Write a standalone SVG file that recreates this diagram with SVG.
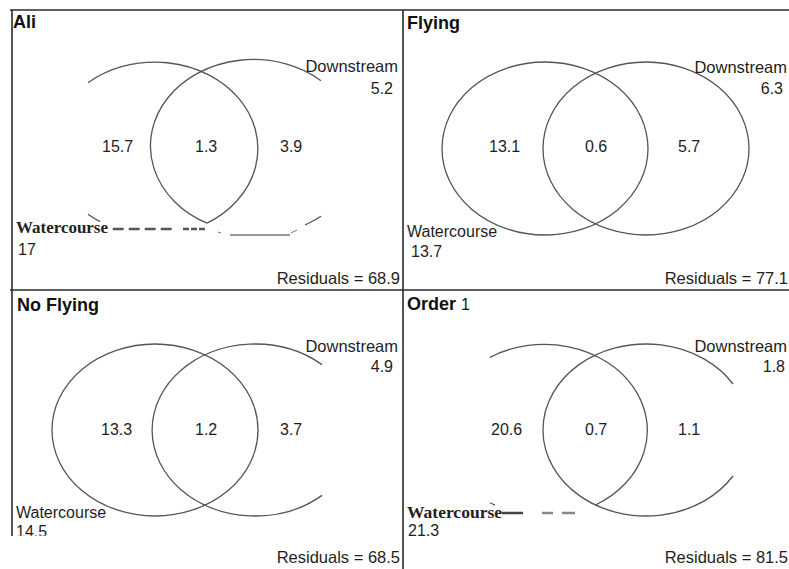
<svg xmlns="http://www.w3.org/2000/svg" width="789" height="569" viewBox="0 0 789 569">
<style>
  .frame { stroke: #2a2a2a; stroke-width: 1.6; fill: none; }
  .ell { stroke: #555; stroke-width: 1.3; fill: none; }
  .t { font-family: "Liberation Sans", Arial, sans-serif; fill: #1e1e1e; font-size: 16px; }
  .ds { font-size: 16.5px; }
  .title { font-family: "Liberation Sans", Arial, sans-serif; fill: #111; font-size: 18px; font-weight: bold; }
  .res { font-family: "Liberation Sans", Arial, sans-serif; fill: #1e1e1e; font-size: 16.5px; text-anchor: end; }
  .end { text-anchor: end; }
  .serif { font-family: "Liberation Serif", "Times New Roman", serif; font-weight: bold; fill: #222; font-size: 17px; }
  .dash { stroke: #555; stroke-width: 2.5; fill: none; }
</style>
<defs>
  <clipPath id="cutNF"><rect x="0" y="290" width="403" height="245.8"/></clipPath>
</defs>
<rect x="0" y="0" width="789" height="569" fill="#fff"/>
<g id="frame">
  <line class="frame" x1="10" y1="10" x2="789" y2="10"/>
  <line class="frame" x1="10" y1="290" x2="789" y2="290"/>
  <line class="frame" x1="403" y1="10" x2="403" y2="569"/>
  <line class="frame" x1="12" y1="10" x2="12" y2="536"/>
</g>
<g id="panel-ali">
  <text class="title" x="13" y="28">Ali</text>
  <path class="ell" d="M 88 82.8 A 103 86.5 0 1 1 207 223.2"/>
  <path class="ell" d="M 88 214.2 A 103 86.5 0 0 0 100 221.6"/>
  <path class="ell" d="M 207 223.2 A 103 86.5 0 1 1 321 80.7"/>
  <path class="ell" d="M 305 225 A 103 86.5 0 0 0 321 216.3"/>
  <text class="t ds end" x="398" y="72">Downstream</text>
  <text class="t end" x="393" y="94">5.2</text>
  <text class="t" x="102" y="152">15.7</text>
  <text class="t" x="195" y="152">1.3</text>
  <text class="t" x="280" y="152">3.9</text>
  <text class="serif" x="16" y="233" textLength="92" lengthAdjust="spacingAndGlyphs">Watercourse</text>
  <text class="t" x="18" y="255">17</text>
  <text class="res" x="400" y="284">Residuals = 68.9</text>
</g>
<g id="panel-flying">
  <text class="title" x="407" y="29">Flying</text>
  <ellipse class="ell" cx="545" cy="148.5" rx="103" ry="86.5"/>
  <ellipse class="ell" cx="646" cy="148.5" rx="103" ry="86.5"/>
  <text class="t ds end" x="787" y="73">Downstream</text>
  <text class="t end" x="783" y="94">6.3</text>
  <text class="t" x="489" y="152">13.1</text>
  <text class="t" x="585" y="152">0.6</text>
  <text class="t" x="678" y="152">5.7</text>
  <text class="t" x="407" y="237">Watercourse</text>
  <text class="t" x="411" y="257">13.7</text>
  <text class="res" x="788" y="284">Residuals = 77.1</text>
</g>
<g id="panel-noflying">
  <text class="title" x="17" y="311">No Flying</text>
  <ellipse class="ell" cx="155" cy="430" rx="103" ry="86"/>
  <path class="ell" d="M 322 495.4 A 103 86 0 1 1 322 364.6"/>
  <text class="t ds end" x="398" y="352">Downstream</text>
  <text class="t end" x="393" y="372">4.9</text>
  <text class="t" x="101" y="435">13.3</text>
  <text class="t" x="195" y="435">1.2</text>
  <text class="t" x="280" y="435">3.7</text>
  <text class="t" x="16" y="518">Watercourse</text>
  <text class="t" x="16" y="537" clip-path="url(#cutNF)">14.5</text>
  <text class="res" x="400" y="563">Residuals = 68.5</text>
</g>
<g id="panel-order1">
  <text class="title" x="407" y="310">Order <tspan font-weight="normal" font-size="16">1</tspan></text>
  <path class="ell" d="M 490 357.3 A 103 86 0 1 1 595.5 505"/>
  <path class="ell" d="M 490 502.7 A 103 86 0 0 0 495 505.2"/>
  <path class="ell" d="M 733 476 A 103 86 0 1 1 733 384"/>
  <text class="t ds end" x="787" y="352">Downstream</text>
  <text class="t end" x="785" y="372">1.8</text>
  <text class="t" x="491" y="435">20.6</text>
  <text class="t" x="585" y="435">0.7</text>
  <text class="t" x="678" y="435">1.1</text>
  <text class="serif" x="407" y="518" textLength="95" lengthAdjust="spacingAndGlyphs">Watercourse</text>
  <text class="t" x="408" y="536">21.3</text>
  <text class="res" x="788" y="563">Residuals = 81.5</text>
</g>
<g id="connectors">
  <line class="dash" x1="112.7" y1="229" x2="176" y2="229" stroke-dasharray="11 5"/>
  <line class="dash" x1="183" y1="229" x2="205" y2="229" stroke-dasharray="6 2" stroke-width="1.8"/>
  <line x1="218" y1="232" x2="221" y2="233" stroke="#666" stroke-width="1"/>
  <line x1="230" y1="235" x2="290" y2="235" stroke="#333" stroke-width="1"/>
  <line x1="291" y1="233" x2="297" y2="230" stroke="#777" stroke-width="1"/>
  <line x1="502" y1="513" x2="523" y2="513" stroke="#444" stroke-width="2.5"/>
  <line x1="542" y1="513" x2="553" y2="513" stroke="#888" stroke-width="2.5"/>
  <line x1="562" y1="513" x2="575" y2="513" stroke="#888" stroke-width="2.5"/>
</g>
</svg>
